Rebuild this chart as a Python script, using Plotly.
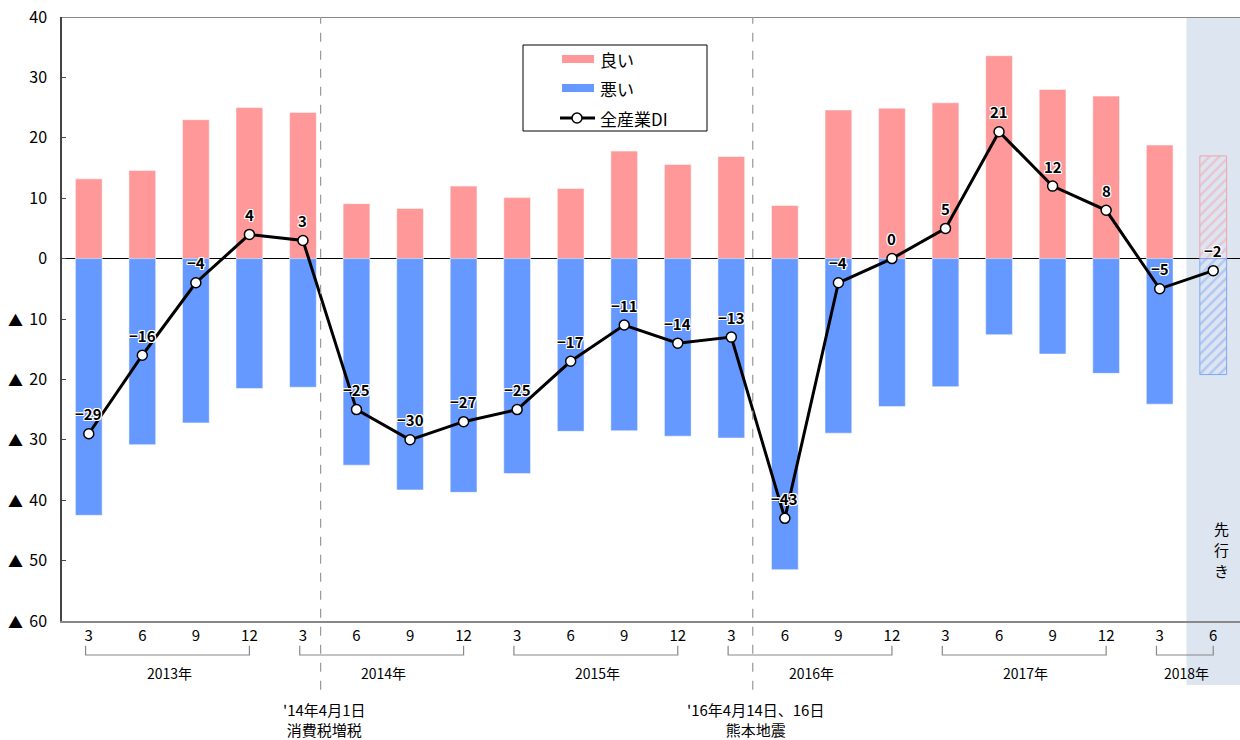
import plotly.graph_objects as go

# Survey months (quarterly), 2013-03 .. 2018-06 (last one is the outlook)
months = ["3", "6", "9", "12", "3", "6", "9", "12", "3", "6", "9", "12",
          "3", "6", "9", "12", "3", "6", "9", "12", "3", "6"]
years = ["2013年", "2014年", "2015年", "2016年", "2017年", "2018年"]
year_spans = [(0, 3), (4, 7), (8, 11), (12, 15), (16, 19), (20, 21)]

good = [13.2, 14.6, 23.0, 25.0, 24.2, 9.1, 8.3, 12.0, 10.1, 11.6, 17.8,
        15.6, 16.9, 8.8, 24.6, 24.9, 25.8, 33.6, 28.0, 26.9, 18.8, 17.0]
bad = [-42.5, -30.8, -27.2, -21.5, -21.3, -34.2, -38.3, -38.7, -35.6, -28.6,
       -28.5, -29.4, -29.7, -51.5, -28.9, -24.5, -21.2, -12.6, -15.8, -19.0,
       -24.1, -19.2]
di = [-29, -16, -4, 4, 3, -25, -30, -27, -25, -17, -11, -14, -13, -43, -4,
      0, 5, 21, 12, 8, -5, -2]

y_ticks = [40, 30, 20, 10, 0, -10, -20, -30, -40, -50, -60]

events = [(4.33, "'14年4月1日<br>消費税増税"),
          (12.4, "'16年4月14日、16日<br>熊本地震")]

outlook_label = "先行き"

FONT = "Liberation Sans Narrow, Noto Sans CJK JP, sans-serif"
PINK = "#FF9999"
BLUE = "#6699FF"

# plot-area geometry in pixels (for placing the legend box in paper units)
L, T, W, H = 62, 17, 1178, 604


def px(x):
    return (x - L) / W


def py(y):
    return 1 - (y - T) / H


n = len(months)
actual = list(range(n - 1))
fc = n - 1

fig = go.Figure()

fig.add_trace(go.Bar(x=actual, y=good[:-1], name="良い", marker_color=PINK,
                     marker_line=dict(color="white", width=0.5), width=0.5))
fig.add_trace(go.Bar(x=actual, y=bad[:-1], name="悪い", marker_color=BLUE,
                     marker_line=dict(color="white", width=0.5), width=0.5))
# outlook bars drawn hatched
fig.add_trace(go.Bar(x=[fc], y=[good[fc]], width=0.5,
                     marker=dict(color="rgba(0,0,0,0)",
                                 line=dict(color="#F0A4AC", width=1),
                                 pattern=dict(shape="/", fgcolor="#F0A4AC",
                                              bgcolor="rgba(0,0,0,0)",
                                              size=7, solidity=0.35))))
fig.add_trace(go.Bar(x=[fc], y=[bad[fc]], width=0.5,
                     marker=dict(color="rgba(0,0,0,0)",
                                 line=dict(color="#7FA6F5", width=1),
                                 pattern=dict(shape="/", fgcolor="#7FA6F5",
                                              bgcolor="rgba(0,0,0,0)",
                                              size=7, solidity=0.35))))
fig.add_trace(go.Scatter(x=list(range(n)), y=di, name="全産業DI",
                         mode="lines+markers",
                         line=dict(color="black", width=3),
                         marker=dict(size=10, color="white",
                                     line=dict(color="black", width=1.5))))

halo = ("1px 1px 0 #fff, -1px -1px 0 #fff, 1px -1px 0 #fff, -1px 1px 0 #fff, "
        "0 1px 0 #fff, 0 -1px 0 #fff, 1px 0 0 #fff, -1px 0 0 #fff")
annotations = []
for i, v in enumerate(di):
    lbl = str(v).replace("-", "−")
    annotations.append(dict(x=i, y=v, xref="x", yref="y", text=f"<b>{lbl}</b>",
                            showarrow=False, yshift=20,
                            font=dict(family=FONT, size=15, color="black",
                                      shadow=halo)))

# "▲" marks for negative y ticks
for t in y_ticks:
    if t < 0:
        annotations.append(dict(x=0, xref="paper", y=t, yref="y", text="▲",
                                showarrow=False, xanchor="center",
                                xshift=-47,
                                font=dict(family=FONT, size=15, color="black")))

shapes = []
# outlook band
shapes.append(dict(type="rect", xref="x", yref="paper", x0=fc - 0.5, x1=fc + 0.5,
                   y0=-0.106, y1=1, fillcolor="#DDE5F1", line_width=0,
                   layer="below"))
# top border
shapes.append(dict(type="line", xref="paper", yref="y", x0=0, x1=1, y0=40, y1=40,
                   line=dict(color="#888888", width=2)))
# event markers
for xe, txt in events:
    shapes.append(dict(type="line", xref="x", yref="paper", x0=xe, x1=xe,
                       y0=-0.114, y1=1, line=dict(color="#999999", width=1.2,
                                                  dash="dash")))
    annotations.append(dict(x=xe, xref="x", y=-0.163, yref="paper", text=txt,
                            showarrow=False, xanchor="center", yanchor="middle",
                            xshift=3,
                            font=dict(family=FONT, size=15, color="black")))

# year brackets
for (a, b), yr in zip(year_spans, years):
    shapes.append(dict(type="path", xref="x", yref="paper",
                       path=f"M {a - 0.06},-0.041 L {a - 0.06},-0.0563 "
                            f"L {b},-0.0563 L {b},-0.041",
                       line=dict(color="#888888", width=1.2)))
    annotations.append(dict(x=(a + b) / 2, xref="x", y=-0.0861, yref="paper",
                            text=yr, showarrow=False, yanchor="middle",
                            font=dict(family=FONT, size=14, color="black")))

# vertical outlook caption, one character per row
for k, ch in enumerate(outlook_label):
    annotations.append(dict(x=fc + 0.15, xref="x", y=-48.2, yref="y",
                            text=ch, showarrow=False, yshift=21 - 21 * k,
                            font=dict(family="Noto Sans CJK JP", size=15,
                                      color="black")))

# legend box
shapes.append(dict(type="rect", xref="paper", yref="paper",
                   x0=px(523), x1=px(707), y0=py(131), y1=py(45),
                   fillcolor="white", line=dict(color="black", width=1)))
shapes.append(dict(type="rect", xref="paper", yref="paper",
                   x0=px(562), x1=px(594), y0=py(63), y1=py(55),
                   fillcolor=PINK, line_width=0))
shapes.append(dict(type="rect", xref="paper", yref="paper",
                   x0=px(562), x1=px(594), y0=py(92), y1=py(84),
                   fillcolor=BLUE, line_width=0))
shapes.append(dict(type="line", xref="paper", yref="paper",
                   x0=px(560), x1=px(595), y0=py(118), y1=py(118),
                   line=dict(color="black", width=3)))
shapes.append(dict(type="circle", xref="paper", yref="paper",
                   x0=px(572), x1=px(582), y0=py(123), y1=py(113),
                   fillcolor="white", line=dict(color="black", width=1.5)))
for label, yy in [("良い", 60), ("悪い", 89), ("全産業DI", 118)]:
    annotations.append(dict(x=px(598), y=py(yy), xref="paper", yref="paper",
                            text=label, showarrow=False, xanchor="left",
                            yanchor="middle",
                            font=dict(family=FONT, size=17, color="black")))

fig.update_layout(
    width=1240, height=740,
    margin=dict(l=L, r=0, t=T, b=740 - T - H),
    paper_bgcolor="white", plot_bgcolor="rgba(0,0,0,0)",
    barmode="relative",
    showlegend=False,
    font=dict(family=FONT, size=15, color="black"),
    xaxis=dict(range=[-0.5, n - 0.5], tickmode="array",
               tickvals=list(range(n)), ticktext=months, showgrid=False,
               zeroline=False, showline=True, linecolor="#888888",
               linewidth=2, ticks="", tickfont=dict(size=15)),
    yaxis=dict(range=[-60, 40], tickmode="array", tickvals=y_ticks,
               ticktext=[str(abs(t)) for t in y_ticks], showgrid=False,
               zeroline=True, zerolinecolor="black", zerolinewidth=1,
               showline=True, linecolor="#444444", linewidth=1.5,
               ticks="inside", ticklen=4, tickcolor="#444444",
               ticklabelstandoff=10, tickfont=dict(size=16)),
    shapes=shapes,
    annotations=annotations,
)

fig.write_html("out.html")
